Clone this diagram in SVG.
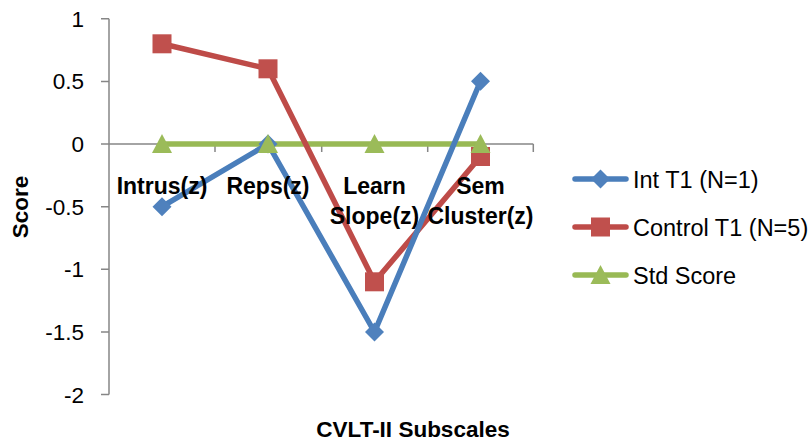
<svg xmlns="http://www.w3.org/2000/svg" width="812" height="441" viewBox="0 0 812 441">
<defs>
<style>
text{font-family:"Liberation Sans",Arial,sans-serif;fill:#000}
.tick{font-size:22.5px;text-anchor:end}
.cat{font-size:23px;font-weight:bold;text-anchor:middle}
.title{font-size:22.5px;font-weight:bold;text-anchor:middle}
.leg{font-size:23.5px}
.axis{stroke:#868686;stroke-width:1.5;fill:none}
.ln{fill:none;stroke-width:5.5;stroke-linejoin:round;stroke-linecap:round}
.blue{stroke:#4A7EBB}
.red{stroke:#BE4B48}
.green{stroke:#98B954}
</style>
<path id="dia" d="M0,-9.5 L9.5,0 L0,9.5 L-9.5,0 Z" fill="#4F81BD"/>
<rect id="sq" x="-9.5" y="-9.5" width="19" height="19" fill="#C0504D"/>
<path id="tri" d="M0,-10 L10,9 L-10,9 Z" fill="#9BBB59"/>
</defs>
<rect width="812" height="441" fill="#fff"/>
<g id="axes">
<path class="axis" d="M109,18.7 V394.6 M101,18.7 H109 M101,81.4 H109 M101,144 H109 M101,206.7 H109 M101,269.3 H109 M101,332 H109 M101,394.6 H109"/>
<path class="axis" d="M109,144 H533.3 M215,144 V152 M321.7,144 V152 M427.7,144 V152 M533.3,144 V152"/>
<text class="tick" x="84" y="26.7">1</text>
<text class="tick" x="84" y="89.4">0.5</text>
<text class="tick" x="84" y="152">0</text>
<text class="tick" x="84" y="214.7">-0.5</text>
<text class="tick" x="84" y="277.3">-1</text>
<text class="tick" x="84" y="340">-1.5</text>
<text class="tick" x="84" y="402.6">-2</text>
<text class="title" transform="translate(28,207) rotate(-90)">Score</text>
<text class="title" x="413" y="437">CVLT-II Subscales</text>
</g>
<g id="series">
<polyline class="ln green" points="162,144 268,144 374.5,144 480.5,144"/>
<polyline class="ln red" points="162,43.8 268,68.8 374.5,281.8 480.5,156.5"/>
<polyline class="ln blue" points="162,206.7 268,144 374.5,332 480.5,81.3"/>
<use href="#dia" x="162" y="206.7"/>
<use href="#dia" x="268" y="144"/>
<use href="#dia" x="374.5" y="332"/>
<use href="#dia" x="480.5" y="81.3"/>
<use href="#sq" x="162" y="43.8"/>
<use href="#sq" x="268" y="68.8"/>
<use href="#sq" x="374.5" y="281.8"/>
<use href="#sq" x="480.5" y="156.5"/>
<use href="#tri" x="162" y="144"/>
<use href="#tri" x="268" y="144"/>
<use href="#tri" x="374.5" y="144"/>
<use href="#tri" x="480.5" y="144"/>
</g>
<g id="categories">
<text class="cat" x="162" y="194">Intrus(z)</text>
<text class="cat" x="268" y="194">Reps(z)</text>
<text class="cat" x="374.5" y="194">Learn</text>
<text class="cat" x="374.5" y="224">Slope(z)</text>
<text class="cat" x="480.5" y="194">Sem</text>
<text class="cat" x="480.5" y="224">Cluster(z)</text>
</g>
<g id="legend">
<line class="ln blue" x1="575" y1="179" x2="626" y2="179"/>
<use href="#dia" x="600.5" y="179"/>
<text class="leg" x="633" y="187.5">Int T1 (N=1)</text>
<line class="ln red" x1="575" y1="227" x2="626" y2="227"/>
<use href="#sq" x="600.5" y="227"/>
<text class="leg" x="633" y="235.5">Control T1 (N=5)</text>
<line class="ln green" x1="575" y1="275" x2="626" y2="275"/>
<use href="#tri" x="600.5" y="275"/>
<text class="leg" x="633" y="283.5">Std Score</text>
</g>
</svg>
